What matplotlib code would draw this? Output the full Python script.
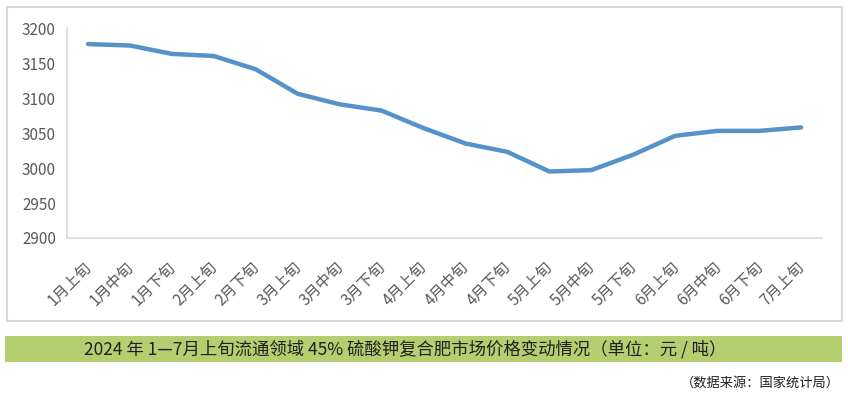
import matplotlib.pyplot as plt
import matplotlib.transforms as mtransforms
from matplotlib.patches import Rectangle

plt.rcParams['font.family'] = ['Noto Sans CJK SC', 'DejaVu Sans']

# Data
periods = ['1月上旬', '1月中旬', '1月下旬', '2月上旬', '2月下旬', '3月上旬',
           '3月中旬', '3月下旬', '4月上旬', '4月中旬', '4月下旬', '5月上旬',
           '5月中旬', '5月下旬', '6月上旬', '6月中旬', '6月下旬', '7月上旬']
prices = [3177, 3175, 3163, 3160, 3141, 3106, 3091, 3082, 3057, 3035,
          3023, 2995, 2997, 3019, 3046, 3053, 3053, 3058]
y_ticks = [2900, 2950, 3000, 3050, 3100, 3150, 3200]

title = '2024 年 1—7月上旬流通领域 45% 硫酸钾复合肥市场价格变动情况（单位：元 / 吨）'
source = '（数据来源：国家统计局）'

W, H = 848, 396
fig = plt.figure(figsize=(W / 100, H / 100), dpi=100)

# outer chart frame
fig.patches.append(Rectangle((7 / W, 1 - 321 / H), (842 - 7) / W, (321 - 7) / H,
                             transform=fig.transFigure, fill=False,
                             edgecolor='#d9d9d9', linewidth=1.5))

ax = fig.add_axes([67 / W, 1 - 238 / H, (822 - 67) / W, (238 - 28) / H])
x = range(len(periods))
ax.plot(x, prices, color='#5592c8', linewidth=3.2, solid_capstyle='round',
        solid_joinstyle='round')
ax.set_xlim(-0.5, len(periods) - 0.5)
ax.set_ylim(2900, 3200)
ax.set_yticks(y_ticks)
ax.set_xticks(list(x))
ax.set_xticklabels(periods, rotation=45, ha='right', rotation_mode='anchor',
                   fontsize=11, color='#595959')
ax.tick_params(axis='y', labelsize=11, labelcolor='#595959', length=0, pad=8)
ax.tick_params(axis='x', length=0, pad=15)
# nudge x labels slightly left
shift = mtransforms.ScaledTranslation(-5 / 100, 0, fig.dpi_scale_trans)
for lab in ax.get_xticklabels():
    lab.set_transform(lab.get_transform() + shift)
for s in ['top', 'right']:
    ax.spines[s].set_visible(False)
ax.spines['left'].set_color('#d9d9d9')
ax.spines['bottom'].set_color('#d9d9d9')
ax.spines['left'].set_linewidth(1.2)
ax.spines['bottom'].set_linewidth(1.2)

# green caption band
fig.patches.append(Rectangle((5 / W, 1 - 362 / H), (842 - 5) / W, (362 - 336) / H,
                             transform=fig.transFigure, facecolor='#b5cf70',
                             edgecolor='none'))
fig.text(405 / W, 1 - 349 / H, title, ha='center', va='center', fontsize=12.5,
         color='#231f20')
fig.text(840 / W, 1 - 383 / H, source, ha='right', va='center', fontsize=9.5,
         color='#231f20')

fig.savefig('out.png', dpi=100)
